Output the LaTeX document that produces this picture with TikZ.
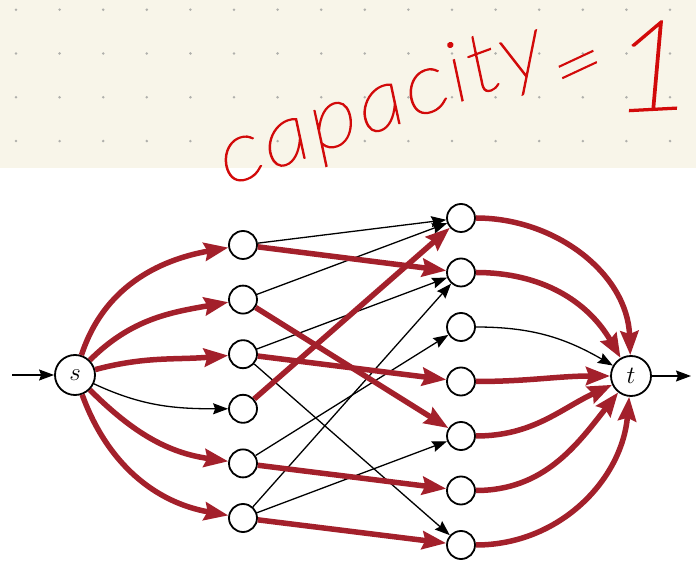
\documentclass[tikz,border=0pt]{standalone}
\usepackage{fontspec}
\newfontfamily\handfont{Lato Hairline Italic}[FakeBold=1.6,FakeStretch=1.15,LetterSpace=3]
\usetikzlibrary{arrows.meta}
\definecolor{paper}{HTML}{F8F5E9}
\definecolor{griddot}{HTML}{B0B0AC}
\definecolor{flow}{HTML}{A3202B}
\definecolor{ink}{HTML}{D20A0A}

\begin{document}
\begin{tikzpicture}[x=1pt,y=1pt,
  vertex/.style={circle,draw=black,line width=1.8pt,fill=white,minimum size=28pt,inner sep=0pt},
  terminal/.style={vertex,minimum size=40pt,font=\fontsize{30}{30}\selectfont},
  flowedge/.style={draw=flow,line width=5.5pt,-{Stealth[length=24pt,width=18pt,inset=3pt]}},
  plainedge/.style={draw=black,line width=1.3pt,-{Stealth[length=15pt,width=11pt,inset=2pt]}},
  handtext/.style={text=ink,inner sep=0pt},
]
\useasboundingbox (0,0) rectangle (696,562);

% dotted note paper strip
\fill[paper] (0,394) rectangle (696,562);
\foreach \r in {0,...,3}
  \foreach \c in {0,...,15}
    \fill[griddot] (16+43.6*\c, 552.3-43.8*\r) circle (1.4pt);

% source, sink and the two layers
\node[terminal] (s) at (75,187) {$s$};
\node[terminal] (t) at (631,186) {$t$};
\foreach \i in {1,...,6}
  \node[vertex] (L\i) at (243, 317-54.6*\i+54.6) {};
\foreach \j in {1,...,7}
  \node[vertex] (R\j) at (461, 344-54.5*\j+54.5) {};

\coordinate (in) at (12,187);
\coordinate (out) at (691,186);

% unused edges
\draw[plainedge] (in) -- (s);
\draw[plainedge] (t) -- (out);
\draw[plainedge] (s) to[out=-25,in=180] (L4);
\draw[plainedge] (L1) -- (R1);
\draw[plainedge] (L2) -- (R1);
\draw[plainedge] (L3) -- (R2);
\draw[plainedge] (L3) -- (R7);
\draw[plainedge] (L5) -- (R3);
\draw[plainedge] (L6) -- (R2);
\draw[plainedge] (L6) -- (R5);
\draw[plainedge] (R3) to[out=0,in=150] (t);

% edges carrying flow
\draw[flowedge] (s) to[out=72,in=190] (L1);
\draw[flowedge] (s) to[out=45,in=190] (L2);
\draw[flowedge] (s) to[out=15,in=185] (L3);
\draw[flowedge] (s) to[out=-45,in=172] (L5);
\draw[flowedge] (s) to[out=-70,in=170] (L6);
\draw[flowedge] (L1) -- (R2);
\draw[flowedge] (L2) -- (R5);
\draw[flowedge] (L3) -- (R4);
\draw[flowedge] (L4) -- (R1);
\draw[flowedge] (L5) -- (R6);
\draw[flowedge] (L6) -- (R7);
\draw[flowedge] (R1) to[out=0,in=92] (t);
\draw[flowedge] (R2) to[out=0,in=120] (t);
\draw[flowedge] (R4) to[out=0,in=180] (t);
\draw[flowedge] (R5) to[out=0,in=205] (t);
\draw[flowedge] (R6) to[out=0,in=232] (t);
\draw[flowedge] (R7) to[out=0,in=265] (t);

% handwritten note
\node[handtext,rotate=20,anchor=base west,font=\handfont\fontsize{84}{84}\selectfont] (cap) at (228,376) {capacity};
\node[handtext,rotate=25,font=\handfont\fontsize{80}{80}\selectfont] (eq) at (582,488) {=};
\node[handtext,rotate=3,font=\handfont\fontsize{125}{125}\selectfont] (one) at (652,496) {1};
\end{tikzpicture}
\end{document}
